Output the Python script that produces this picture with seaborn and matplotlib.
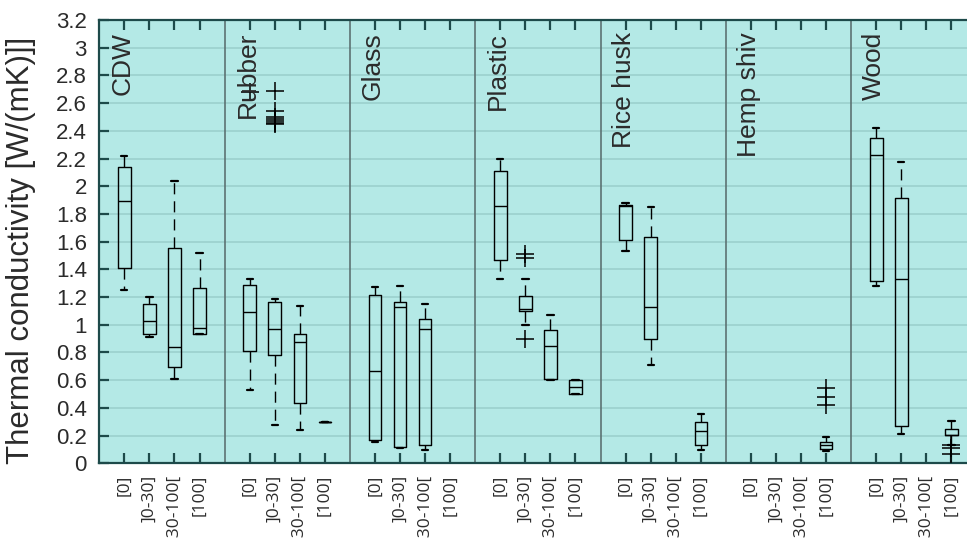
import numpy as np
import pandas as pd
import matplotlib
matplotlib.use("Agg")
import matplotlib.pyplot as plt
import seaborn as sns

# ---------------- data ----------------
materials = ["CDW", "Rubber", "Glass", "Plastic", "Rice husk", "Hemp shiv", "Wood"]
classes = ["[0]", "]0-30]", "]30-100[", "[100]"]

# five-number summaries per box, order: material-major, class-minor (nan = no data)
nan = np.nan
whisker_low = [1.25, 0.91, 0.609, 0.93,
               0.532, 0.274, 0.241, 0.30,
               0.156, 0.113, 0.096, nan,
               1.331, 0.999, 0.600, 0.500,
               1.535, 0.710, nan, 0.096,
               nan, nan, nan, 0.090,
               1.283, 0.209, nan, 0.132]
quart_low = [1.413, 0.931, 0.696, 0.931,
             0.813, 0.780, 0.433, 0.30,
             0.168, 0.120, 0.130, nan,
             1.466, 1.100, 0.612, 0.500,
             1.615, 0.898, nan, 0.132,
             nan, nan, nan, 0.100,
             1.319, 0.270, nan, 0.204]
medians = [1.890, 1.025, 0.840, 0.975,
           1.095, 0.970, 0.878, 0.30,
           0.669, 1.131, 0.967, nan,
           1.860, 1.112, 0.845, 0.549,
           1.858, 1.126, nan, 0.236,
           nan, nan, nan, 0.130,
           2.224, 1.331, nan, 0.206]
quart_high = [2.137, 1.150, 1.555, 1.268,
              1.290, 1.167, 0.931, 0.30,
              1.218, 1.167, 1.040, nan,
              2.113, 1.208, 0.960, 0.599,
              1.865, 1.634, nan, 0.301,
              nan, nan, nan, 0.155,
              2.351, 1.918, nan, 0.245]
whisker_high = [2.220, 1.203, 2.040, 1.519,
                1.333, 1.189, 1.138, 0.30,
                1.276, 1.280, 1.150, nan,
                2.200, 1.328, 1.071, 0.599,
                1.882, 1.848, nan, 0.354,
                nan, nan, nan, 0.192,
                2.419, 2.178, nan, 0.307]

# outliers ('+' markers)
outlier_material = ["Rubber", "Rubber", "Rubber", "Rubber", "Rubber", "Rubber", "Rubber", "Rubber",
                    "Plastic", "Plastic", "Plastic",
                    "Hemp shiv", "Hemp shiv", "Hemp shiv",
                    "Wood", "Wood", "Wood"]
outlier_class = ["[0]", "]0-30]", "]0-30]", "]0-30]", "]0-30]", "]0-30]", "]0-30]", "]0-30]",
                 "]0-30]", "]0-30]", "]0-30]",
                 "[100]", "[100]", "[100]",
                 "[100]", "[100]", "[100]"]
outlier_value = [2.68, 2.69, 2.54, 2.50, 2.485, 2.47, 2.46, 2.45,
                 1.51, 1.48, 0.90,
                 0.54, 0.48, 0.42,
                 0.13, 0.11, 0.07]

y_ticks = [0, 0.2, 0.4, 0.6, 0.8, 1, 1.2, 1.4, 1.6, 1.8, 2, 2.2, 2.4, 2.6, 2.8, 3, 3.2]
y_label = "Thermal conductivity [W/(mK)]]"

# ---------------- build table ----------------
def pos_of(mat, cls):
    return 5 * materials.index(mat) + classes.index(cls) + 1

rows = []
k = 0
for m in materials:
    for c in classes:
        vals = [whisker_low[k], quart_low[k], medians[k], quart_high[k], whisker_high[k]]
        if not np.isnan(vals[0]):
            for v in vals:
                rows.append({"pos": pos_of(m, c), "value": v})
        k += 1
df = pd.DataFrame(rows)
out_df = pd.DataFrame({
    "pos": [pos_of(m, c) for m, c in zip(outlier_material, outlier_class)],
    "value": outlier_value,
})

# ---------------- figure ----------------
sns.set_style("white")
plt.rcParams["font.family"] = ["Liberation Sans", "DejaVu Sans"]

W, H = 967, 538
fig = plt.figure(figsize=(W / 100, H / 100), dpi=100)
ax_left, ax_right, ax_top, ax_bottom = 99.3, 976.5, 20.0, 463.3
ax = fig.add_axes([ax_left / W, 1 - ax_bottom / H, (ax_right - ax_left) / W, (ax_bottom - ax_top) / H])
ax.set_facecolor("#b4e9e6")

dark = "#1d4a4a"
ax.set_axisbelow(True)
for yv in y_ticks[1:-1]:
    ax.axhline(yv, color="#9dd2cf", lw=1.3, zorder=0)

sns.boxplot(data=df, x="pos", y="value", native_scale=True, whis=(0, 100),
            width=0.5, fill=False, color="black", linewidth=1.0, showfliers=False,
            whiskerprops={"linestyle": (0, (8, 5)), "linewidth": 1.0},
            capprops={"linewidth": 1.6},
            medianprops={"linewidth": 1.0, "color": "black"},
            ax=ax)
sns.scatterplot(data=out_df, x="pos", y="value", marker="+", s=170, color="black",
                linewidth=1.1, ax=ax, zorder=3)

for i in range(1, len(materials)):
    ax.axvline(5 * i, color="#56696a", lw=1.1, zorder=1)

for i, m in enumerate(materials):
    ax.text(5 * i + 0.92, 3.115, m, rotation=90, ha="center", va="top",
            fontsize=19, color="#2b2b2b")

ax.set_xlim(0, 35)
ax.set_ylim(0, 3.2)
ax.set_yticks(y_ticks)
ax.set_yticklabels([f"{v:g}" for v in y_ticks], fontsize=16, color="#2b2b2b")
xt = [pos_of(m, c) for m in materials for c in classes]
ax.set_xticks(xt)
ax.set_xticklabels(classes * len(materials), rotation=90, fontsize=12.5,
                   color="#2b2b2b", family="Open Sans")
ax.tick_params(axis="y", direction="in", length=7, width=1.6, color=dark, pad=9, right=True, left=True)
ax.tick_params(axis="x", direction="in", length=7, width=1.6, color=dark, pad=8, top=True, bottom=True)
ax.set_xlabel("")
ax.set_ylabel(y_label, fontsize=22.5, color="#2b2b2b")
ax.yaxis.set_label_coords(-0.072, 0.48)
for s in ax.spines.values():
    s.set_color(dark)
    s.set_linewidth(1.6)
    s.set_visible(True)
ax.grid(False)

fig.savefig("out.png", dpi=100)
